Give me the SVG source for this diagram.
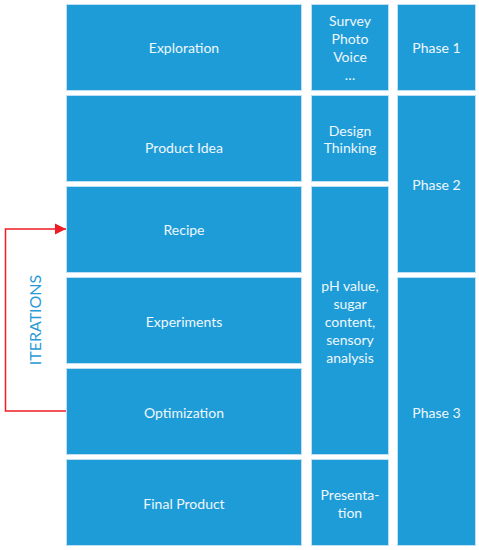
<svg xmlns="http://www.w3.org/2000/svg" width="479" height="550" viewBox="0 0 479 550">
<defs>
<style>
.box{fill:#1e9cd8;stroke:#bfe0f2;stroke-width:1}
.t{font-family:Lato,"Liberation Sans",sans-serif;font-size:14px;fill:#eef7fc;text-anchor:middle;dominant-baseline:central}
.it{font-family:Lato,"Liberation Sans",sans-serif;font-size:16px;fill:#2a9ad6;text-anchor:middle;dominant-baseline:central}
.conn{fill:none;stroke:#ee1c24;stroke-width:1.5}
</style>
<marker id="ah" markerUnits="userSpaceOnUse" markerWidth="12" markerHeight="12" refX="11" refY="6" orient="auto">
<path d="M0,0.5 L11,6 L0,11.5 Z" fill="#ee1c24"/>
</marker>
</defs>
<rect width="479" height="550" fill="#ffffff"/>
<g id="exploration"><rect class="box" x="66.5" y="4.5" width="235" height="86"/><text class="t" x="184" y="47">Exploration</text></g>
<g id="product-idea"><rect class="box" x="66.5" y="95.5" width="235" height="86"/><text class="t" x="184" y="147">Product Idea</text></g>
<g id="recipe"><rect class="box" x="66.5" y="186.5" width="235" height="86"/><text class="t" x="184" y="229">Recipe</text></g>
<g id="experiments"><rect class="box" x="66.5" y="277.5" width="235" height="86"/><text class="t" x="184" y="321">Experiments</text></g>
<g id="optimization"><rect class="box" x="66.5" y="368.5" width="235" height="86"/><text class="t" x="184" y="412">Optimization</text></g>
<g id="final-product"><rect class="box" x="66.5" y="459.5" width="235" height="86"/><text class="t" x="184" y="503">Final Product</text></g>
<g id="methods-1"><rect class="box" x="311.5" y="4.5" width="77" height="86"/><text class="t" x="350" y="20">Survey</text><text class="t" x="350" y="38">Photo</text><text class="t" x="350" y="56">Voice</text><text class="t" x="350" y="74">…</text></g>
<g id="methods-2"><rect class="box" x="311.5" y="95.5" width="77" height="86"/><text class="t" x="350" y="130">Design</text><text class="t" x="350" y="147">Thinking</text></g>
<g id="methods-3"><rect class="box" x="311.5" y="186.5" width="77" height="268"/><text class="t" x="350" y="285">pH value,</text><text class="t" x="350" y="303">sugar</text><text class="t" x="350" y="321">content,</text><text class="t" x="350" y="339">sensory</text><text class="t" x="350" y="357">analysis</text></g>
<g id="methods-4"><rect class="box" x="311.5" y="459.5" width="77" height="86"/><text class="t" x="350" y="494">Presenta-</text><text class="t" x="350" y="512">tion</text></g>
<g id="phase-1"><rect class="box" x="397.5" y="4.5" width="78" height="86"/><text class="t" x="436.5" y="47">Phase 1</text></g>
<g id="phase-2"><rect class="box" x="397.5" y="95.5" width="78" height="177"/><text class="t" x="436.5" y="184">Phase 2</text></g>
<g id="phase-3"><rect class="box" x="397.5" y="277.5" width="78" height="268"/><text class="t" x="436.5" y="412">Phase 3</text></g>
<g id="iterations-label"><text class="it" transform="translate(34,320) rotate(-90)">ITERATIONS</text></g>
<g id="connectors"><path class="conn" d="M66,411 H5.5 V229 H66" marker-end="url(#ah)"/></g>
</svg>
